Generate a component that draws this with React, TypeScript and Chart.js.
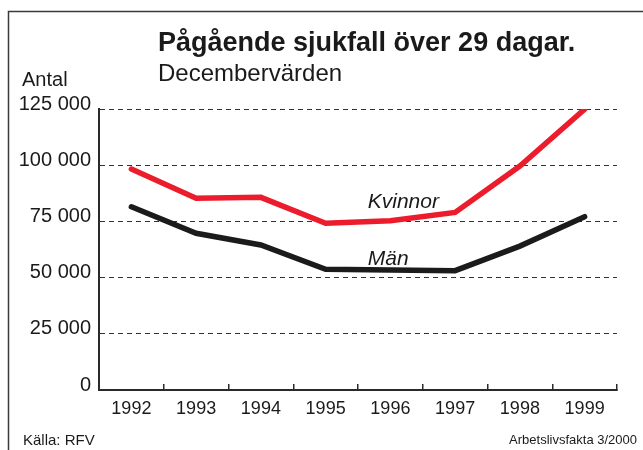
import React, { useEffect, useRef } from 'react';
import { Chart, registerables } from 'chart.js';

Chart.register(...registerables);

const categories = ['1992', '1993', '1994', '1995', '1996', '1997', '1998', '1999'];
const kvinnor = [98300, 85300, 85700, 74200, 75300, 79000, 99600, 124900];
const man = [81500, 69700, 64500, 53700, 53400, 53100, 64000, 77100];
const yTickValues = [0, 25000, 50000, 75000, 100000, 125000];
const yTickLabels = ['0', '25 000', '50 000', '75 000', '100 000', '125 000'];
const seriesNames = ['Kvinnor', 'Män'];
const titleText = 'Pågående sjukfall över 29 dagar.';
const subtitleText = 'Decembervärden';
const yAxisTitle = 'Antal';
const sourceText = 'Källa: RFV';
const creditText = 'Arbetslivsfakta 3/2000';

const FONT = '"Liberation Sans", Arial, Helvetica, sans-serif';
const RED = '#ec1c2d';
const BLACK = '#1c1a1a';
const AXIS = '#2a2a2a';

const textPlugin = {
  id: 'texts',
  beforeDraw(chart: any) {
    const ctx = chart.ctx;
    ctx.save();
    ctx.strokeStyle = '#3a3a3a';
    ctx.lineWidth = 1.5;
    ctx.beginPath();
    ctx.moveTo(8.5, 450);
    ctx.lineTo(8.5, 11.5);
    ctx.lineTo(643, 11.5);
    ctx.stroke();
    ctx.restore();
  },
  afterDraw(chart: any) {
    const ctx = chart.ctx;
    const xs = chart.scales.x;
    const ys = chart.scales.y;
    ctx.save();
    ctx.fillStyle = '#1a1a1a';
    ctx.textBaseline = 'alphabetic';
    ctx.textAlign = 'left';
    ctx.font = `bold 27px ${FONT}`;
    ctx.fillText(titleText, 158, 51);
    ctx.font = `24px ${FONT}`;
    ctx.fillText(subtitleText, 158, 81);
    ctx.font = `20px ${FONT}`;
    ctx.fillText(yAxisTitle, 22, 86);
    ctx.font = `15px ${FONT}`;
    ctx.fillText(sourceText, 23, 445);
    ctx.font = `13px ${FONT}`;
    ctx.textAlign = 'right';
    ctx.fillText(creditText, 637, 444);
    // series labels placed through the scales
    ctx.textAlign = 'left';
    ctx.font = `italic 21px ${FONT}`;
    ctx.fillText(seriesNames[0], xs.getPixelForValue(3.65), ys.getPixelForValue(81000));
    ctx.fillText(seriesNames[1], xs.getPixelForValue(3.65), ys.getPixelForValue(55600));
    ctx.restore();
  },
};

export default function App() {
  const ref = useRef<HTMLCanvasElement | null>(null);

  useEffect(() => {
    if (!ref.current) return;
    const chart = new Chart(ref.current, {
      type: 'line',
      data: {
        labels: categories,
        datasets: [
          {
            label: seriesNames[0],
            data: kvinnor,
            borderColor: RED,
            backgroundColor: RED,
            borderWidth: 5.5,
            pointRadius: 0,
            tension: 0,
            borderCapStyle: 'round',
            borderJoinStyle: 'miter',
          },
          {
            label: seriesNames[1],
            data: man,
            borderColor: BLACK,
            backgroundColor: BLACK,
            borderWidth: 5.5,
            pointRadius: 0,
            tension: 0,
            borderCapStyle: 'round',
            borderJoinStyle: 'miter',
          },
        ],
      },
      options: {
        responsive: false,
        maintainAspectRatio: false,
        animation: false,
        devicePixelRatio: 1,
        layout: { padding: { top: 109, left: 0, right: 26, bottom: 20 } },
        plugins: {
          legend: { display: false },
          title: { display: false },
          tooltip: { enabled: false },
        },
        scales: {
          x: {
            type: 'category',
            offset: true,
            afterFit: (s: any) => {
              s.height = 40;
            },
            grid: {
              offset: true,
              drawOnChartArea: false,
              drawTicks: true,
              tickLength: -6,
              color: AXIS,
              lineWidth: 1.5,
            },
            border: { display: true, color: AXIS, width: 2 },
            ticks: {
              color: '#1a1a1a',
              font: { family: FONT, size: 18 },
              padding: 14,
              maxRotation: 0,
              autoSkip: false,
            },
          },
          y: {
            type: 'linear',
            min: 0,
            max: 125000,
            afterFit: (s: any) => {
              s.width = 99;
            },
            afterBuildTicks: (s: any) => {
              s.ticks = yTickValues.map((v) => ({ value: v }));
            },
            grid: {
              drawTicks: false,
              color: (c: any) => (c.tick && c.tick.value === 0 ? 'rgba(0,0,0,0)' : '#333'),
              lineWidth: 1,
            },
            border: { display: true, color: AXIS, width: 2, dash: [5, 4] },
            ticks: {
              color: '#1a1a1a',
              font: { family: FONT, size: 20 },
              padding: 8,
              labelOffset: -5,
              callback: (v: any) => {
                const i = yTickValues.indexOf(Number(v));
                return i >= 0 ? yTickLabels[i] : '';
              },
            },
          },
        },
      },
      plugins: [textPlugin],
    } as any);
    return () => chart.destroy();
  }, []);

  return (
    <div style={{ position: 'fixed', left: 0, top: 0, width: 643, height: 450, background: '#fff' }}>
      <canvas ref={ref} width={643} height={450} style={{ display: 'block', width: 643, height: 450 }} />
    </div>
  );
}
